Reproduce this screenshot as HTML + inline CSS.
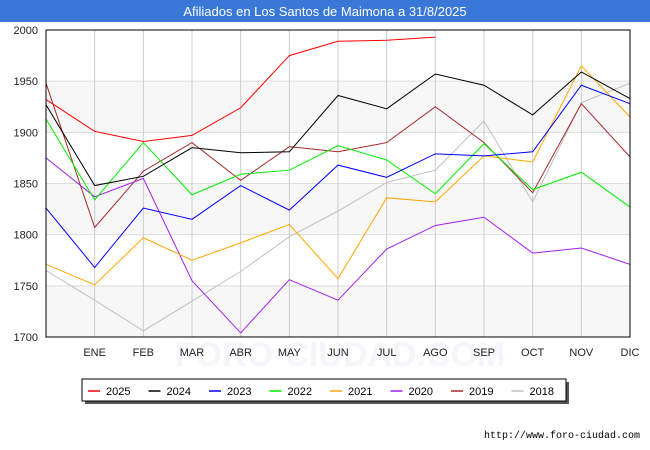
<!DOCTYPE html>
<html><head><meta charset="utf-8"><style>
body{margin:0;background:#fff;font-family:"Liberation Sans",sans-serif;}
#wrap{position:relative;width:650px;height:450px;overflow:hidden;}
</style></head><body><div id="wrap">
<svg id="svg" width="650" height="450" xmlns="http://www.w3.org/2000/svg" font-family="Liberation Sans, sans-serif"></svg>
</div>
<script>
const months=["","ENE","FEB","MAR","ABR","MAY","JUN","JUL","AGO","SEP","OCT","NOV","DIC"];
const yTicks=[1700,1750,1800,1850,1900,1950,2000];
const seriesNames=["2025","2024","2023","2022","2021","2020","2019","2018"];
const seriesColors=["#ff0000","#000000","#0000ff","#00ee00","#ffa500","#a020f0","#a52a2a","#c0c0c0"];
const s2025=[1932,1901,1891,1897,1924,1975,1989,1990,1993];
const s2024=[1927,1848,1857,1885,1880,1881,1936,1923,1957,1946,1917,1959,1933];
const s2023=[1826,1768,1826,1815,1848,1824,1868,1856,1879,1877,1881,1946,1928];
const s2022=[1913,1834,1890,1839,1859,1863,1887,1873,1840,1889,1844,1861,1827];
const s2021=[1771,1751,1797,1775,1792,1810,1757,1836,1832,1877,1871,1965,1915];
const s2020=[1875,1837,1855,1755,1704,1756,1736,1786,1809,1817,1782,1787,1771];
const s2019=[1948,1807,1862,1890,1853,1886,1881,1890,1925,1890,1841,1928,1876];
const s2018=[1765,1736,1706,1735,1764,1798,1823,1851,1863,1911,1832,1929,1948];
const allSeries=[s2025,s2024,s2023,s2022,s2021,s2020,s2019,s2018];
const L=46,R=630,T=30,B=337,ymin=1700,ymax=2000;
const X=i=>L+i*(R-L)/12;
const Y=v=>B-(v-ymin)*(B-T)/(ymax-ymin);
const svg=document.getElementById('svg');const NS="http://www.w3.org/2000/svg";
function mk(t,a,p){const e=document.createElementNS(NS,t);for(const k in a)e.setAttribute(k,a[k]);(p||svg).appendChild(e);return e;}
let e=mk('rect',{x:0,y:0,width:650,height:22,fill:"#3a78d8"});

e=mk('text',{x:325,y:16,'text-anchor':'middle',fill:'#fff','font-size':13});e.textContent="Afiliados en Los Santos de Maimona a 31/8/2025";

for(let i=0;i<yTicks.length-1;i+=2){e=mk('rect',{x:L,y:Y(yTicks[i+1]),width:R-L,height:Y(yTicks[i])-Y(yTicks[i+1]),fill:'#f7f7f7'});
}
e=mk('text',{x:340,y:366,'text-anchor':'middle','font-size':34,fill:'#f5f6fb','font-weight':'bold'});e.textContent="FORO-CIUDAD.COM";

yTicks.forEach(v=>{e=mk('line',{x1:L,x2:R,y1:Y(v),y2:Y(v),stroke:'#dddddd'});

e=mk('text',{x:L-8,y:Y(v)+4,'text-anchor':'end','font-size':11,fill:'#222'});e.textContent=v;
});
months.forEach((m,i)=>{if(i>0){e=mk('line',{x1:X(i),x2:X(i),y1:T,y2:B,stroke:'#cccccc'});
}
e=mk('text',{x:X(i),y:356,'text-anchor':'middle','font-size':11,fill:'#222'});e.textContent=m;
});
for(let s=allSeries.length-1;s>=0;s--){const d=allSeries[s].map((v,i)=>X(i)+","+Y(v)).join(" ");
e=mk('polyline',{points:d,fill:'none',stroke:seriesColors[s],'stroke-width':1});
}
e=mk('rect',{x:L,y:T,width:R-L,height:B-T,fill:'none',stroke:'#000'});

e=mk('rect',{x:85,y:382,width:484,height:22,fill:'#555'});

e=mk('rect',{x:82,y:379,width:484,height:22,fill:'#fff',stroke:'#000'});

seriesNames.forEach((n,i)=>{const lx=88+i*60.5;
e=mk('line',{x1:lx,x2:lx+12,y1:391,y2:391,stroke:seriesColors[i],'stroke-width':1.5});

e=mk('text',{x:lx+18,y:395,'font-size':11,fill:'#000'});e.textContent=n;
});
e=mk('text',{x:640,y:438,'text-anchor':'end','font-size':10,fill:'#000','font-family':'Liberation Mono, monospace'});e.textContent="http://www.foro-ciudad.com";

</script></body></html>
